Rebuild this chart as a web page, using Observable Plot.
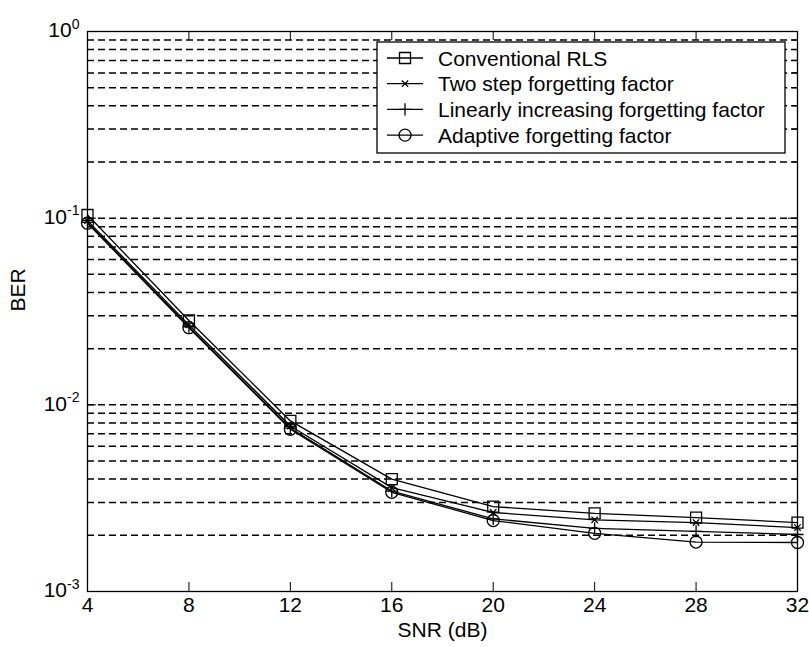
<!DOCTYPE html>
<html>
<head>
<meta charset="utf-8">
<script src="https://cdn.jsdelivr.net/npm/d3@7"></script>
<script src="https://cdn.jsdelivr.net/npm/@observablehq/plot@0.6"></script>
<style>
  html, body { margin: 0; padding: 0; background: #fff; }
  #chart { width: 809px; height: 647px; }
</style>
</head>
<body>
<div id="chart"></div>
<script>
// ---- data ----
const snr = [4, 8, 12, 16, 20, 24, 28, 32];
const seriesNames = [
  "Conventional RLS",
  "Two step forgetting factor",
  "Linearly increasing forgetting factor",
  "Adaptive forgetting factor"
];
const seriesSymbols = ["square", "times", "plus", "circle"];
const conventional = [0.104, 0.0283, 0.0082, 0.0040, 0.00285, 0.00262, 0.00249, 0.00234];
const twoStep      = [0.097, 0.0268, 0.0077, 0.0036, 0.00265, 0.00242, 0.00234, 0.00220];
const linear       = [0.095, 0.0262, 0.0075, 0.00345, 0.00245, 0.00218, 0.00210, 0.00202];
const adaptive     = [0.094, 0.0259, 0.0074, 0.0034, 0.00240, 0.00205, 0.00184, 0.00183];
const xTicks = [4, 8, 12, 16, 20, 24, 28, 32];
const yMajor = [1e-3, 1e-2, 1e-1, 1];
const yMinorMult = [2, 3, 4, 5, 6, 7, 8, 9];

// ---- derived tables ----
const allSeries = [conventional, twoStep, linear, adaptive];
const rows = [];
allSeries.forEach((vals, i) => vals.forEach((v, j) => rows.push({series: seriesNames[i], symbol: seriesSymbols[i], snr: snr[j], ber: v})));
const yMinor = [];
[1e-3, 1e-2, 1e-1].forEach(d => yMinorMult.forEach(m => yMinor.push(+(d * m).toPrecision(3))));
const gridVals = [1e-2, 1e-1, ...yMinor];

const W = 809, H = 647, mL = 87, mR = 12, mT = 31, mB = 56;
const plotW = W - mL - mR, plotH = H - mT - mB;
const font = "'Liberation Sans', Arial, Helvetica, sans-serif";
const symR = {square: 6.2, times: 3, plus: 4, circle: 6};

const chart = Plot.plot({
  width: W, height: H,
  marginLeft: mL, marginRight: mR, marginTop: mT, marginBottom: mB,
  style: {fontFamily: font, fontSize: "21px", background: "white", color: "black", overflow: "visible"},
  x: {domain: [4, 32]},
  y: {type: "log", domain: [1e-3, 1]},
  marks: [
    Plot.ruleY(gridVals, {stroke: "black", strokeWidth: 1.5, strokeDasharray: "7,4"}),
    Plot.ruleX(xTicks, {stroke: "black", insetTop: plotH - 9}),
    Plot.ruleX(xTicks, {stroke: "black", insetBottom: plotH - 9}),
    Plot.ruleY(yMajor, {stroke: "black", insetRight: plotW - 9}),
    Plot.ruleY(yMajor, {stroke: "black", insetLeft: plotW - 9}),
    Plot.ruleY(yMinor, {stroke: "black", insetLeft: plotW - 5}),
    Plot.frame({stroke: "black", strokeWidth: 1.3}),
    Plot.line(rows, {x: "snr", y: "ber", z: "series", stroke: "black", strokeWidth: 1.3}),
    ...seriesSymbols.map(s => Plot.dot(rows.filter(d => d.symbol === s), {
      x: "snr", y: "ber", symbol: s, r: symR[s], stroke: "black", fill: "none", strokeWidth: 1.3
    })),
    Plot.axisX({ticks: xTicks, tickSize: 0, tickPadding: 6, label: null, tickFormat: d => String(d)}),
    Plot.axisY({ticks: yMajor, tickSize: 0, tickPadding: 8, label: null, dy: -1,
      tickFormat: d => "10^" + Math.round(Math.log10(d))}),
    Plot.text(["SNR (dB)"], {frameAnchor: "bottom", dy: 45, fontSize: 21}),
    Plot.text(["BER"], {frameAnchor: "left", dx: -69, rotate: -90, fontSize: 21})
  ]
});
document.getElementById("chart").appendChild(chart);

// superscript exponents on y tick labels
const svg = d3.select(chart);
svg.selectAll('g[aria-label="y-axis tick label"] text').each(function () {
  const t = this.textContent;
  const parts = t.split("^");
  if (parts.length !== 2) return;
  const sel = d3.select(this);
  sel.text(null);
  sel.append("tspan").text("10");
  sel.append("tspan").attr("dy", "-0.6em").attr("font-size", "14px").text(parts[1]);
});

// legend
const lg = svg.append("g").attr("font-family", font).attr("font-size", 21).attr("text-anchor", "start");
lg.append("rect").attr("x", 377).attr("y", 42).attr("width", 408).attr("height", 111)
  .attr("fill", "white").attr("stroke", "black").attr("stroke-width", 1.3);
const symMap = {square: d3.symbolSquare, times: d3.symbolTimes, plus: d3.symbolPlus, circle: d3.symbolCircle};
seriesNames.forEach((name, i) => {
  const cy = 58 + i * 25.7;
  lg.append("line").attr("x1", 387).attr("x2", 423).attr("y1", cy).attr("y2", cy)
    .attr("stroke", "black").attr("stroke-width", 1.3);
  const s = seriesSymbols[i];
  lg.append("path").attr("transform", `translate(405,${cy})`)
    .attr("d", d3.symbol(symMap[s], symR[s] * symR[s] * Math.PI)())
    .attr("fill", "none").attr("stroke", "black").attr("stroke-width", 1.3);
  lg.append("text").attr("x", 438).attr("y", cy).attr("dy", "0.36em").attr("text-anchor", "start").text(name);
});
</script>
</body>
</html>
